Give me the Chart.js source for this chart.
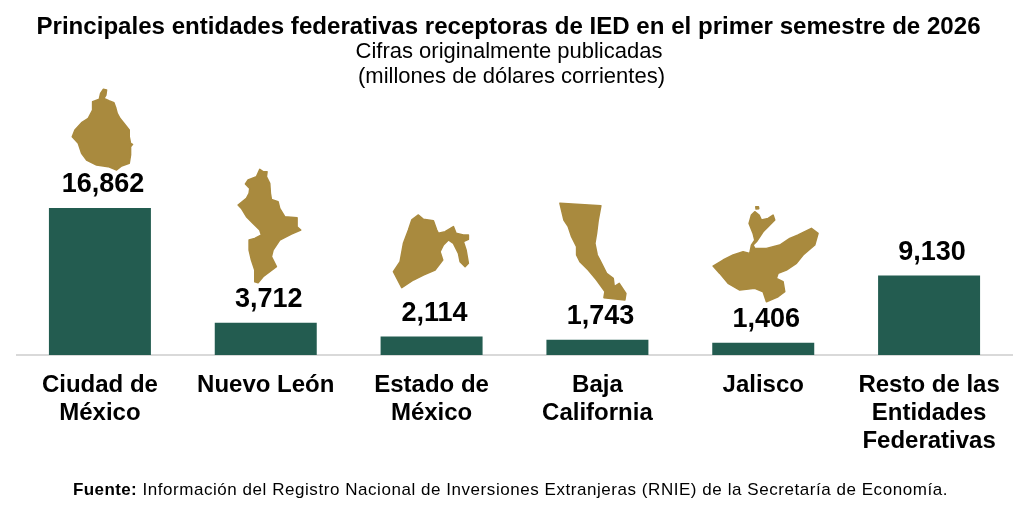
<!DOCTYPE html>
<html lang="es">
<head>
<meta charset="utf-8">
<title>IED por entidad federativa</title>
<script src="https://cdn.jsdelivr.net/npm/chart.js@4"></script>
<style>
    html, body { margin: 0; padding: 0; background: #fff; }
    canvas { display: block; }
</style>
</head>
<body>
<canvas id="chart" width="1024" height="513"></canvas>
<script>
const titleText = 'Principales entidades federativas receptoras de IED en el primer semestre de 2026';
const subtitleLines = ['Cifras originalmente publicadas', '(millones de dólares corrientes)'];
const sourceLabel = 'Fuente:';
const sourceText = ' Información del Registro Nacional de Inversiones Extranjeras (RNIE) de la Secretaría de Economía.';

const categories = [
    ['Ciudad de', 'México'],
    'Nuevo León',
    ['Estado de', 'México'],
    ['Baja', 'California'],
    'Jalisco',
    ['Resto de las', 'Entidades', 'Federativas']
];
const values = [16862, 3712, 2114, 1743, 1406, 9130];

const GREEN = '#235c50';
const GOLD = '#a98a3e';
const FONT = '"Liberation Sans", Arial, sans-serif';

// State silhouettes, traced at 3x. Each one hangs off its bar (bar centre + dx, bar top + dy).
const silhouettes = [
    { bar: 0, dx: -60, dy: -128, rings: [[[190,28],[200,30],[198,45],[192,55],[207,62],[222,68],[228,85],[232,100],[240,115],[252,130],[268,150],[268,170],[272,190],[278,193],[272,200],[272,225],[268,250],[245,258],[230,270],[205,260],[170,255],[140,240],[125,220],[115,190],[97,170],[105,150],[125,128],[145,115],[158,90],[158,65],[178,58],[182,40]]] },
    { bar: 1, dx: -226, dy: -242.6, rings: [[[660,268],[670,275],[682,275],[680,290],[690,310],[692,340],[695,358],[715,365],[720,385],[735,410],[772,413],[772,440],[783,450],[755,462],[720,480],[700,510],[695,530],[710,560],[690,575],[670,590],[655,608],[645,605],[645,570],[635,540],[628,510],[628,480],[645,475],[665,465],[660,450],[640,430],[620,410],[605,385],[595,375],[620,355],[628,340],[630,325],[617,312],[625,300],[650,290]]] },
    { bar: 2, dx: -51.5, dy: -146.6, rings: [[[115,75],[130,88],[160,92],[170,120],[175,130],[195,125],[220,110],[228,130],[250,135],[265,135],[265,148],[250,155],[258,180],[265,220],[255,230],[240,215],[235,190],[220,160],[205,150],[190,165],[180,185],[188,210],[165,240],[130,255],[100,270],[65,293],[40,245],[60,215],[70,160],[85,120],[95,90]]] },
    { bar: 3, dx: -217.5, dy: -149.8, rings: [[[540,40],[663,47],[655,90],[650,130],[645,160],[652,195],[660,210],[680,250],[700,265],[703,290],[718,280],[738,310],[735,330],[672,323],[675,305],[650,270],[625,240],[600,215],[590,195],[590,170],[575,140],[565,110],[552,90]]] },
    { bar: 4, dx: -63.5, dy: -152.7, rings: [[[165,65],[178,75],[185,90],[205,85],[220,75],[225,90],[205,110],[190,125],[170,155],[160,165],[165,175],[200,175],[240,165],[270,145],[295,135],[315,125],[335,115],[355,130],[345,165],[310,195],[290,220],[260,240],[235,250],[230,265],[250,275],[255,305],[235,320],[200,335],[190,305],[165,295],[120,300],[85,280],[60,250],[40,228],[70,210],[100,195],[130,185],[150,190],[155,165],[165,150],[160,130],[148,100],[155,75]], [[168,50],[176,50],[177,56],[169,57]]] }
];

// Title block, drawn here because it is not centred on the plot area
const headerText = {
    id: 'headerText',
    afterDraw(chart) {
        const ctx = chart.ctx;
        ctx.save();
        ctx.fillStyle = '#000';
        ctx.textAlign = 'center';
        ctx.textBaseline = 'middle';
        ctx.font = 'bold 24.1px ' + FONT;
        ctx.fillText(titleText, 508.5, 27);
        ctx.font = '22px ' + FONT;
        ctx.fillText(subtitleLines[0], 509, 52);
        ctx.fillText(subtitleLines[1], 511.5, 77);
        ctx.restore();
    }
};

// Value labels above the bars
const valueLabels = {
    id: 'valueLabels',
    afterDatasetsDraw(chart) {
        const ctx = chart.ctx;
        const bars = chart.getDatasetMeta(0).data;
        ctx.save();
        ctx.font = 'bold 27px ' + FONT;
        ctx.fillStyle = '#000';
        ctx.textAlign = 'center';
        ctx.textBaseline = 'middle';
        bars.forEach((bar, i) => {
            ctx.fillText(values[i].toLocaleString('en-US'), bar.x + 3, bar.y - 23);
        });
        ctx.restore();
    }
};

const stateShapes = {
    id: 'stateShapes',
    afterDatasetsDraw(chart) {
        const ctx = chart.ctx;
        const bars = chart.getDatasetMeta(0).data;
        ctx.save();
        ctx.fillStyle = GOLD;
        ctx.strokeStyle = GOLD;
        ctx.lineWidth = 1.5;
        ctx.lineJoin = 'round';
        silhouettes.forEach(shape => {
            const bar = bars[shape.bar];
            ctx.beginPath();
            shape.rings.forEach(ring => {
                ring.forEach((p, i) => {
                    const x = bar.x + shape.dx + p[0] / 3;
                    const y = bar.y + shape.dy + p[1] / 3;
                    if (i === 0) ctx.moveTo(x, y); else ctx.lineTo(x, y);
                });
                ctx.closePath();
            });
            ctx.fill();
            ctx.stroke();
        });
        ctx.restore();
    }
};

const sourceNote = {
    id: 'sourceNote',
    afterDraw(chart) {
        const ctx = chart.ctx;
        ctx.save();
        ctx.fillStyle = '#000';
        ctx.textBaseline = 'alphabetic';
        ctx.textAlign = 'left';
        ctx.letterSpacing = '0.4px';
        ctx.font = 'bold 17px ' + FONT;
        ctx.fillText(sourceLabel, 73, 495);
        const w = ctx.measureText(sourceLabel).width;
        ctx.font = '17px ' + FONT;
        ctx.letterSpacing = '0.55px';
        ctx.fillText(sourceText, 73 + w, 495);
        ctx.restore();
    }
};

new Chart(document.getElementById('chart').getContext('2d'), {
    type: 'bar',
    data: {
        labels: categories,
        datasets: [{
            data: values,
            backgroundColor: GREEN,
            barPercentage: 0.615,
            categoryPercentage: 1
        }]
    },
    plugins: [stateShapes, valueLabels, headerText, sourceNote],
    options: {
        responsive: false,
        animation: false,
        devicePixelRatio: 1,
        layout: { padding: { left: 17, right: 12, top: 89.4, bottom: 0 } },
        scales: {
            x: {
                grid: { display: false },
                border: { color: '#d9d9d9', width: 2 },
                afterFit(scale) { scale.height = 158; },
                ticks: {
                    color: '#000',
                    maxRotation: 0,
                    autoSkip: false,
                    padding: 8,
                    font: { family: FONT, size: 24, weight: 'bold', lineHeight: 1.167 }
                }
            },
            y: { display: false, min: 0, max: 30466 }
        },
        plugins: {
            legend: { display: false },
            tooltip: { enabled: false }
        }
    }
});
</script>
</body>
</html>
